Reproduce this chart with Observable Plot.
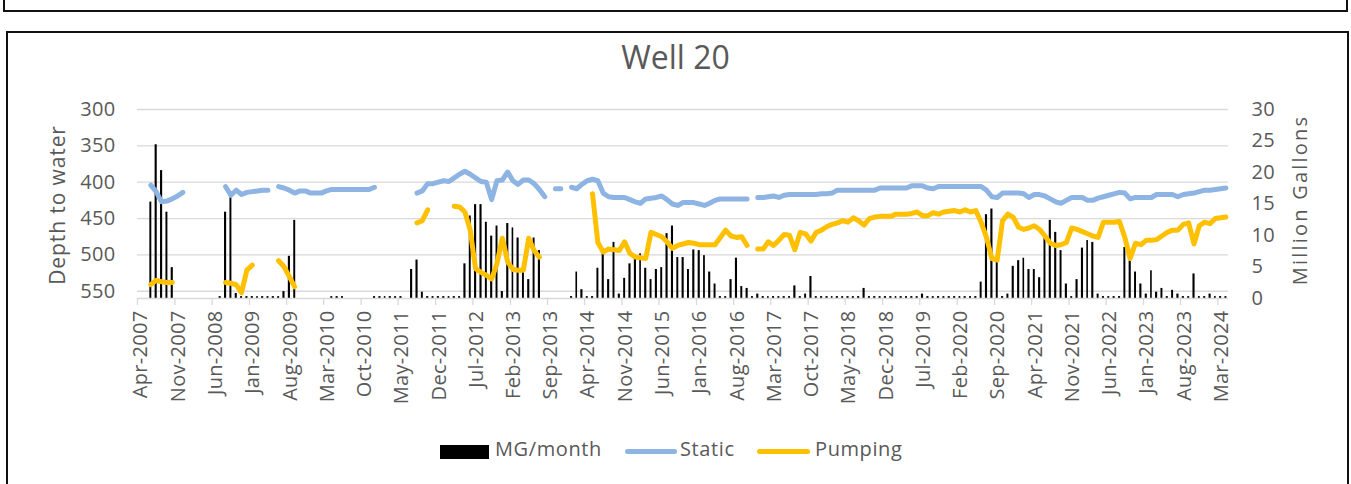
<!DOCTYPE html>
<html>
<head>
<meta charset="utf-8">
<script src="https://cdn.jsdelivr.net/npm/d3@7"></script>
<script src="https://cdn.jsdelivr.net/npm/@observablehq/plot@0.6"></script>
<style>
  body { margin: 0; background: #fff; }
  #wrap { position: relative; width: 1351px; height: 484px; overflow: hidden; background: #fff;
          font-family: "Open Sans", sans-serif; color: #595959; }
  .box1 { position: absolute; left: 3px; top: -18px; width: 1341px; height: 26px; border: 2.5px solid #111; }
  .box2 { position: absolute; left: 6px; top: 31px; width: 1339px; height: 480px; border: 2px solid #111; }
  #chart { position: absolute; left: 0; top: 0; }
  .title { position: absolute; left: 0; width: 1351px; top: 41px; text-align: center;
           font-size: 32px; line-height: 32px; }
  .rot { position: absolute; white-space: nowrap; transform: translate(-50%, -50%) rotate(-90deg);
         line-height: 1; }
  .ytitle { left: 57px; top: 205px; font-size: 21px; letter-spacing: 0.9px; }
  .y2title { left: 1300px; top: 200px; font-size: 20px; letter-spacing: 2.2px; }
  .leg { position: absolute; top: 439px; font-size: 20px; line-height: 20px; letter-spacing: 0.6px; white-space: nowrap; }
  .sw { position: absolute; }
</style>
</head>
<body>
<div id="wrap">
  <div class="box1"></div>
  <div class="box2"></div>
  <div id="chart"></div>
  <div class="title">Well 20</div>
  <div class="rot ytitle">Depth to water</div>
  <div class="rot y2title">Million Gallons</div>
  <div id="legend"></div>
</div>
<script>
// ---- data ----
const firstMonth = "2007-04";
const monthCount = 205; // Apr-2007 .. Apr-2024

const tickLabels = ["Apr-2007","Nov-2007","Jun-2008","Jan-2009","Aug-2009","Mar-2010","Oct-2010",
  "May-2011","Dec-2011","Jul-2012","Feb-2013","Sep-2013","Apr-2014","Nov-2014","Jun-2015","Jan-2016",
  "Aug-2016","Mar-2017","Oct-2017","May-2018","Dec-2018","Jul-2019","Feb-2020","Sep-2020","Apr-2021",
  "Nov-2021","Jun-2022","Jan-2023","Aug-2023","Mar-2024"];

const leftTicks = [300, 350, 400, 450, 500, 550];
const rightTicks = [0, 5, 10, 15, 20, 25, 30];

// MG/month (right axis)
const mgPerMonth = [
  null, null, 15.3, 24.4, 20.3, 13.7, 4.9, null, null, null,
  null, null, null, null, null, 0.3, 13.7, 16.0, 0.8, 0.3,
  0.3, 0.3, 0.3, 0.3, 0.3, 0.3, 0.3, 1.1, 6.7, 12.4,
  null, null, null, null, null, null, 0.3, 0.3, 0.3, null,
  null, null, null, null, 0.3, 0.3, 0.3, 0.3, 0.3, 0.3,
  null, 4.6, 6.1, 1.0, 0.3, 0.3, 0.3, 0.3, 0.3, 0.3,
  0.3, 5.5, 13.1, 14.9, 14.9, 12.1, 9.9, 11.5, 1.1, 11.9,
  11.2, 9.6, 5.5, 3.0, 9.6, 7.6, null, null, null, null,
  null, 0.3, 4.2, 1.4, 0.3, 0.3, 4.8, 7.2, 3.0, 8.9,
  0.7, 3.2, 5.5, 6.2, 7.1, 4.8, 3.0, 4.6, 4.9, 10.3,
  11.5, 6.5, 6.5, 4.6, 7.7, 7.6, 6.8, 4.2, 2.3, 0.3,
  0.3, 3.0, 6.4, 1.9, 1.6, 0.3, 0.7, 0.3, 0.3, 0.3,
  0.3, 0.3, 0.3, 2.0, 0.3, 0.7, 3.5, 0.3, 0.3, 0.3,
  0.3, 0.3, 0.3, 0.3, 0.3, 0.3, 1.6, 0.3, 0.3, 0.3,
  0.3, 0.3, 0.3, 0.3, 0.3, 0.3, 0.3, 0.7, 0.3, 0.3,
  0.3, 0.3, 0.3, 0.3, 0.3, 0.3, 0.3, 0.3, 2.6, 13.3,
  14.2, 6.0, 0.3, 0.7, 5.1, 6.0, 6.4, 4.6, 4.6, 3.3,
  9.7, 12.4, 10.5, 7.6, 2.3, 0.3, 3.0, 8.0, 9.2, 8.9,
  0.7, 0.3, 0.3, 0.3, 0.3, 8.1, 6.0, 4.2, 2.3, 0.7,
  4.4, 1.0, 1.6, 0.3, 1.3, 0.7, 0.3, 0.3, 3.9, 0.3,
  0.3, 0.7, 0.3, 0.3, 0.3
];

// Static depth to water (left axis)
const staticDepth = [
  null, null, 404, 413, 427, 426, 423, 419, 414, null,
  null, null, null, null, null, null, 406, 418, 411, 417,
  414, 413, 412, 411, 411, null, 406, 408, 411, 415,
  412, 412, 415, 415, 415, 412, 410, 410, 410, 410,
  410, 410, 410, 410, 407, null, null, null, null, null,
  null, null, 415, 412, 402, 402, 400, 398, 399, 394,
  389, 385, 389, 394, 399, 400, 424, 398, 397, 386,
  398, 403, 397, 397, 402, 410, 420, null, 409, 409,
  null, 407, 409, 403, 398, 396, 398, 415, 420, 421,
  421, 421, 424, 427, 429, 423, 422, 421, 419, 424,
  430, 432, 428, 428, 428, 430, 432, 429, 425, 423,
  423, 423, 423, 423, 423, null, 421, 421, 420, 419,
  421, 418, 417, 417, 417, 417, 417, 417, 416, 416,
  415, 411, 411, 411, 411, 411, 411, 411, 411, 408,
  408, 408, 408, 408, 408, 405, 405, 405, 408, 409,
  406, 406, 406, 406, 406, 406, 406, 406, 406, 411,
  420, 421, 415, 415, 415, 415, 416, 421, 417, 417,
  419, 423, 427, 429, 425, 421, 421, 421, 425, 425,
  422, 420, 418, 416, 414, 415, 423, 421, 421, 421,
  421, 417, 417, 417, 417, 420, 417, 416, 415, 413,
  411, 411, 410, 409, 408
];

// Pumping depth to water (left axis)
const pumpingDepth = [
  null, null, 541, 535, 537, 538, 538, null, null, null,
  null, null, null, null, null, null, 538, 539, 541, 552,
  521, 514, null, null, null, null, 508, 516, 530, 544,
  null, null, null, null, null, null, null, null, null, null,
  null, null, null, null, null, null, null, null, null, null,
  null, null, 456, 453, 438, null, null, null, null, 433,
  434, 441, 466, 519, 524, 528, 533, 512, 477, 510,
  520, 521, 521, 477, 494, 503, null, null, null, null,
  null, null, null, null, null, 416, 483, 496, 492, 493,
  494, 482, 498, 503, 504, 505, 469, 472, 475, 482,
  491, 487, 485, 483, 484, 486, 486, 486, 486, 476,
  466, 474, 476, 475, 487, null, 492, 492, 482, 487,
  480, 472, 473, 493, 469, 471, 481, 469, 466, 461,
  458, 456, 453, 455, 449, 453, 459, 450, 448, 447,
  447, 447, 444, 444, 444, 443, 441, 446, 446, 442,
  444, 441, 440, 439, 441, 438, 441, 439, 455, 476,
  505, 507, 453, 444, 448, 462, 465, 463, 460, 465,
  474, 484, 487, 486, 483, 463, 465, 468, 471, 474,
  476, 455, 455, 455, 454, 476, 505, 484, 486, 480,
  480, 479, 474, 469, 466, 466, 458, 456, 485, 460,
  455, 457, 450, 449, 448
];

// ---- build ----
const depthMin = 300, depthMax = 560, mgMax = 30;
const toDepth = mg => depthMax - mg * (depthMax - depthMin) / mgMax;
const toMG = d => (depthMax - d) * mgMax / (depthMax - depthMin);

const parseMonth = d3.utcParse("%Y-%m");
const start = parseMonth(firstMonth);
const months = d3.range(monthCount).map(i => d3.utcMonth.offset(start, i));
const rows = months.map((d, i) => {
  const end = d3.utcMonth.offset(d, 1);
  return { start: d, end, mid: new Date((+d + +end) / 2),
           mg: mgPerMonth[i], stat: staticDepth[i], pump: pumpingDepth[i] };
});
const tickDates = tickLabels.map(d3.utcParse("%b-%Y"));
const labelOf = new Map(tickDates.map((d, i) => [+d, tickLabels[i]]));

const STATIC = "#8DB4E2", PUMP = "#FFC000", GRID = "#D9D9D9", TEXT = "#595959";

const chart = Plot.plot({
  width: 1351,
  height: 420,
  marginTop: 109,
  marginBottom: 122,
  marginLeft: 137,
  marginRight: 123,
  style: { fontFamily: "Open Sans", fontSize: "20px", color: TEXT, background: "transparent", overflow: "visible", letterSpacing: "0.3px" },
  x: { type: "utc", domain: [months[0], d3.utcMonth.offset(months[0], monthCount)] },
  y: { domain: [depthMax, depthMin] },
  marks: [
    Plot.gridY(leftTicks, { stroke: GRID, strokeOpacity: 1, strokeWidth: 1.3 }),
    Plot.rect(rows.filter(r => r.mg != null), {
      x1: "start", x2: "end", y1: depthMax, y2: r => toDepth(r.mg),
      fill: "black", insetLeft: 1.7, insetRight: 1.6
    }),
    Plot.ruleY([depthMax], { stroke: GRID, strokeWidth: 1.3 }),
    Plot.line(rows, { x: "mid", y: "stat", stroke: STATIC, strokeWidth: 5, strokeLinecap: "round", strokeLinejoin: "round" }),
    Plot.line(rows, { x: "mid", y: "pump", stroke: PUMP, strokeWidth: 5, strokeLinecap: "round", strokeLinejoin: "round" }),
    Plot.axisY(leftTicks, { anchor: "left", tickSize: 0, tickPadding: 22, fontSize: 20, fill: TEXT, label: null }),
    Plot.axisY(rightTicks.map(toDepth), { anchor: "right", tickSize: 0, tickPadding: 23, fontSize: 20, fill: TEXT,
      tickFormat: d => String(Math.round(toMG(d))), label: null }),
    Plot.axisX(tickDates, { tickSize: 7, stroke: GRID, strokeWidth: 1.3, tickFormat: () => "", label: null }),
    Plot.axisX(tickDates, { tickSize: 0, tickPadding: 12, tickRotate: -90, dx: 3.5, fontSize: 20, fill: TEXT,
      tickFormat: d => labelOf.get(+d), label: null })
  ]
});
document.getElementById("chart").appendChild(chart);

// ---- legend (HTML) ----
const legendItems = [
  { label: "MG/month", kind: "bar", color: "black", sx: 440, sw: 49, tx: 495 },
  { label: "Static", kind: "line", color: STATIC, sx: 625, sw: 52, tx: 680 },
  { label: "Pumping", kind: "line", color: PUMP, sx: 757, sw: 53, tx: 815 }
];
const legend = document.getElementById("legend");
for (const it of legendItems) {
  const s = document.createElement("div");
  s.className = "sw";
  s.style.left = it.sx + "px";
  s.style.width = it.sw + "px";
  s.style.background = it.color;
  if (it.kind === "bar") { s.style.top = "445px"; s.style.height = "14px"; }
  else { s.style.top = "449px"; s.style.height = "5px"; s.style.borderRadius = "2.5px"; }
  legend.appendChild(s);
  const t = document.createElement("div");
  t.className = "leg";
  t.style.left = it.tx + "px";
  t.textContent = it.label;
  legend.appendChild(t);
}
</script>
</body>
</html>
